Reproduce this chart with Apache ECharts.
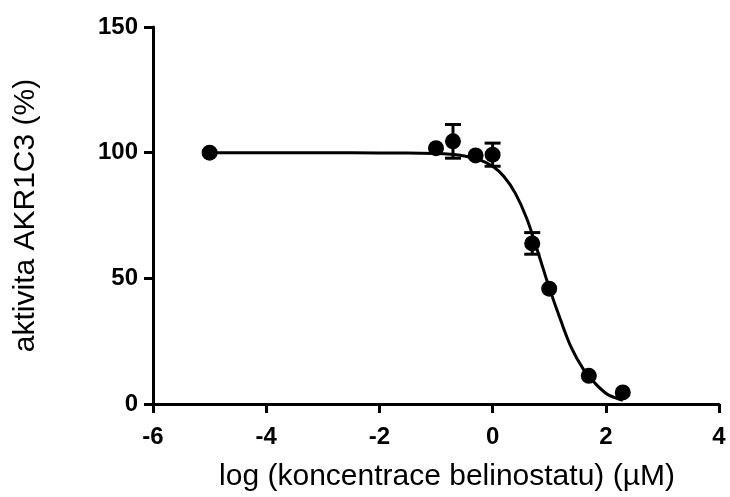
<!DOCTYPE html>
<html>
<head>
<meta charset="utf-8">
<script src="https://cdn.jsdelivr.net/npm/echarts@6/dist/echarts.min.js"></script>
<style>
  html, body { margin: 0; padding: 0; background: #fff; }
  #chart { width: 730px; height: 497px; }
</style>
</head>
<body>
<div id="chart"></div>
<script>
// measured points: log concentration (uM) vs activity (%)
const logConc = [-5, -1, -0.7, -0.3, 0, 0.7, 1, 1.7, 2.3];
const activity = [100, 101.8, 104.5, 98.9, 99.2, 63.9, 45.9, 11.2, 4.6];
// SD only where the bar shows outside the symbol
const errorSD = [null, null, 6.7, null, 4.6, 4.3, null, null, null];

// fitted curve
const fitX = [-5, -3, -2, -1.5, -1, -0.75, -0.5, -0.25, 0, 0.2, 0.4, 0.6, 0.8, 1.0, 1.2, 1.4, 1.6, 1.8, 2.0, 2.15, 2.3];
const fitY = [100, 100, 99.9, 99.9, 99.7, 99.4, 98.7, 97.3, 94.6, 90.5, 83.9, 74, 60.5, 46.3, 33.5, 22, 14, 8.5, 4.3, 2.6, 1.5];

const xTicks = [-6, -4, -2, 0, 2, 4];
const yTicks = [0, 50, 100, 150];

const chart = echarts.init(document.getElementById('chart'));

const points = logConc.map((x, i) => [x, activity[i]]);
const bars = logConc
  .map((x, i) => errorSD[i] == null ? null : [x, activity[i] - errorSD[i], activity[i] + errorSD[i]])
  .filter(d => d);
const curve = fitX.map((x, i) => [x, fitY[i]]);

const axisCommon = {
  axisLine: { onZero: false, lineStyle: { color: '#000', width: 3 } },
  axisTick: { show: true, inside: false, length: 9, lineStyle: { color: '#000', width: 3 } },
  splitLine: { show: false },
  axisLabel: {
    color: '#000', fontFamily: 'Liberation Sans, Arial', fontWeight: 'bold', fontSize: 24
  },
  nameTextStyle: { color: '#000', fontFamily: 'Liberation Sans, Arial', fontSize: 30 }
};

const option = {
  animation: false,
  backgroundColor: '#fff',
  grid: { left: 153, right: 11, top: 27, bottom: 91 },
  xAxis: {
    ...axisCommon,
    type: 'value',
    min: xTicks[0], max: xTicks[xTicks.length - 1], interval: 2,
    axisLabel: { ...axisCommon.axisLabel, margin: 21 },
    name: 'log (koncentrace belinostatu) (\u00b5M)',
    nameLocation: 'middle',
    nameGap: 58,
    nameTextStyle: { ...axisCommon.nameTextStyle, padding: [0, 0, 0, 22] }
  },
  yAxis: {
    ...axisCommon,
    type: 'value',
    min: yTicks[0], max: yTicks[yTicks.length - 1], interval: 50,
    axisLabel: { ...axisCommon.axisLabel, margin: 15 },
    name: 'aktivita AKR1C3 (%)',
    nameLocation: 'middle',
    nameRotate: 90,
    nameGap: 112
  },
  series: [
    {
      type: 'line',
      data: curve,
      smooth: 0.4,
      showSymbol: false,
      lineStyle: { color: '#000', width: 3 },
      z: 2
    },
    {
      type: 'custom',
      data: bars,
      z: 3,
      renderItem: (params, api) => {
        const lo = api.coord([api.value(0), api.value(1)]);
        const hi = api.coord([api.value(0), api.value(2)]);
        const w = 8;
        const style = { stroke: '#000', lineWidth: 3 };
        return {
          type: 'group',
          children: [
            { type: 'line', shape: { x1: lo[0], y1: lo[1], x2: hi[0], y2: hi[1] }, style },
            { type: 'line', shape: { x1: hi[0] - w, y1: hi[1], x2: hi[0] + w, y2: hi[1] }, style },
            { type: 'line', shape: { x1: lo[0] - w, y1: lo[1], x2: lo[0] + w, y2: lo[1] }, style }
          ]
        };
      }
    },
    {
      type: 'scatter',
      data: points,
      symbol: 'circle',
      symbolSize: 16,
      itemStyle: { color: '#000', opacity: 1 },
      z: 4
    }
  ]
};

chart.setOption(option);
</script>
</body>
</html>
